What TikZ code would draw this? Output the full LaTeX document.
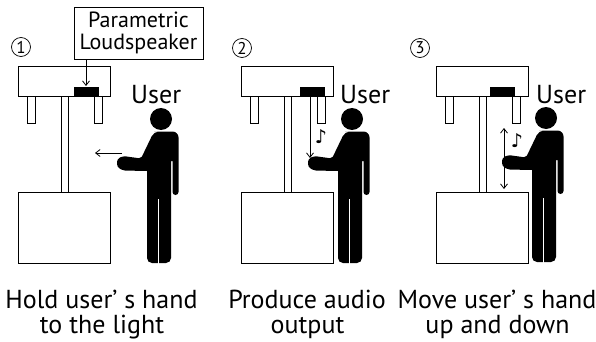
\documentclass[tikz,border=0pt]{standalone}
\usepackage{fontspec}
\setmainfont{PT Sans}
\newfontfamily\symfont{DejaVu Sans}
\usetikzlibrary{arrows.meta}

% one lectern-like stand: top box with speaker, two legs, pole and base
% #1 left edge, #2 name suffix, #3 speaker offset
\newcommand\standunit[3]{%
  \node[outline, minimum width=8pt, minimum height=28pt] (legl#2) at ({#1+9},95) {};
  \node[outline, minimum width=8pt, minimum height=28pt] (legr#2) at ({#1+76},95) {};
  \node[outline, minimum width=7pt, minimum height=98pt] (pole#2) at ({#1+43},95) {};
  \node[outline, minimum width=92pt, minimum height=30pt] (top#2) at (#1,66) {};
  \node[outline, minimum width=92pt, minimum height=71pt] (base#2) at (#1,192) {};
  \node[speaker] (spk#2) at ({#1+#3},87.5) {};
}

% pictogram of a person, placed by the centre of the head
\newcommand\userfig[1]{%
  \begin{scope}[shift={(#1)}]
    \fill[figfill] (0,0) circle[radius=11];
    \fill[figfill]
      (-2,12.5) [rounded corners=6] -- (17.5,12.5)
      [rounded corners=3] -- (17.5,76) -- (11.5,76)
      [sharp corners] -- (11.5,42) -- (10,42)
      [rounded corners=5] -- (10,144) -- (-14,144)
      [sharp corners] -- (-14,52)
      [rounded corners=2] -- (-38,51.5)
      [rounded corners=3] -- (-44,48) -- (-44,40) -- (-38,37)
      [rounded corners=2] -- (-20,39.5)
      [rounded corners=5] -- (-7,12.5) -- cycle;
    \draw[white, line width=1.3pt] (-2.2,80) -- (-2.2,146);
  \end{scope}
}

\begin{document}
\begin{tikzpicture}[x=1pt, y=-1pt,
  outline/.style={draw=black, line width=0.9pt, fill=white, inner sep=0pt,
    outer sep=0pt, anchor=north west},
  speaker/.style={draw=black, line width=0.5pt, fill=black, inner sep=0pt,
    outer sep=0pt, anchor=north west, minimum width=24pt, minimum height=8.5pt},
  figfill/.style={fill=black},
  arr/.style={line width=0.8pt, -{Straight Barb[length=4.5pt,width=7pt]}},
  darr/.style={line width=0.8pt,
    {Straight Barb[length=4.5pt,width=7pt]}-{Straight Barb[length=4.5pt,width=7pt]}},
  stepnum/.style={circle, draw, line width=0.7pt, minimum size=19pt,
    inner sep=0pt, font=\fontsize{17}{17}\selectfont},
  usertext/.style={anchor=base west, inner sep=0pt,
    font=\fontsize{26}{26}\selectfont},
  caption/.style={anchor=base, inner sep=0pt,
    font=\fontsize{26}{26}\selectfont},
  note/.style={inner sep=0pt, font=\symfont\fontsize{19}{19}\selectfont}
]
\useasboundingbox[fill=white] (0,0) rectangle (596,342);

% ---- the three stands
\standunit{18}{1}{56}
\standunit{241}{2}{59}
\standunit{436}{3}{54}

% ---- step numbers
\node[stepnum] (n1) at (21,47) {1};
\node[stepnum] (n2) at (242,48) {2};
\node[stepnum] (n3) at (420,48) {3};

% ---- loudspeaker label
\node[draw, line width=0.9pt, align=center, inner sep=1pt,
  minimum width=129pt, minimum height=52pt,
  font=\fontsize{22}{21.5}\selectfont] (lbl) at (138.5,33)
  {Parametric\\Loudspeaker};
\coordinate (spkpt1) at (86,86);
\draw[arr] (lbl.south -| spkpt1) -- (spkpt1);

% ---- users
\node[usertext] (u1) at (131,103) {User};
\node[usertext] (u2) at (340,103) {User};
\node[usertext] (u3) at (536,103) {User};

% step 1: hand moves toward the stand
\coordinate (h1from) at (122,153);
\coordinate (h1to) at (95,153);
\draw[arr] (h1from) -- (h1to);
\userfig{161,119}

% step 2: sound beam down onto the hand
\coordinate (hand2) at (310,158);
\draw[arr] (spk2.south -| hand2) -- (hand2);
\node[note] (m2) at (321,137) {♪};
\userfig{352,119}

% step 3: hand moves up and down
\coordinate (h3top) at (504,128);
\coordinate (h3bot) at (504,189);
\draw[darr] (h3top) -- (h3bot);
\node[note] (m3) at (517,141) {♪};
\userfig{546,118}

% ---- captions
\node[caption] (c1a) at (101.5,308) {Hold user’ s hand};
\node[caption] (c1b) at (102,333) {to the light};
\node[caption] (c2a) at (307,308) {Produce audio};
\node[caption] (c2b) at (307.5,333) {output};
\node[caption] (c3a) at (497,308) {Move user’ s hand};
\node[caption] (c3b) at (497.5,333) {up and down};
\end{tikzpicture}
\end{document}
